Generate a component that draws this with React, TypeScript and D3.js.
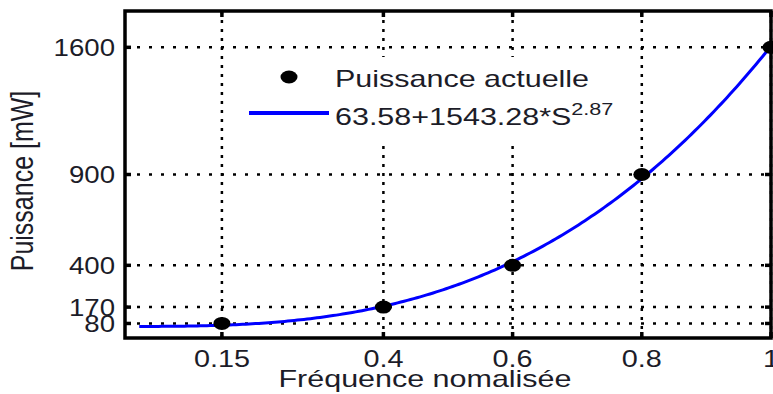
import React from "react";
import * as d3 from "d3";

const freqs = [0.15, 0.4, 0.6, 0.8, 1];
const powers = [80, 170, 400, 900, 1600];
const xTicks = [0.15, 0.4, 0.6, 0.8, 1];
const xTickLabels = ["0.15", "0.4", "0.6", "0.8", "1"];
const yTicks = [80, 170, 400, 900, 1600];
const yTickLabels = ["80", "170", "400", "900", "1600"];
const fitA = 63.58;
const fitB = 1543.28;
const fitP = 2.87;
const fitStart = 0.022;

const W = 773;
const H = 394;
const left = 125, right = 771, top = 11, bottom = 338;
const FONT = "'Liberation Sans', Arial, sans-serif";
const TXT = "#1c1c28";

function T({ x, y, sx = 1.2, anchor = "start", size = 24, children }: any) {
  return (
    <text
      transform={`translate(${x},${y}) scale(${sx},1)`}
      textAnchor={anchor}
      fontFamily={FONT}
      fontSize={size}
      fill={TXT}
    >
      {children}
    </text>
  );
}

export default function App() {
  const x = d3.scaleLinear().domain([0, 1]).range([left, right]);
  const y = d3.scaleLinear().domain([0, 1800]).range([bottom, top]);

  const fitXs = d3.range(fitStart, 1.0001, 0.005).concat([1]);
  const fitLine = d3
    .line<number>()
    .x((s) => x(s))
    .y((s) => y(fitA + fitB * Math.pow(s, fitP)))
    .curve(d3.curveLinear);

  return (
    <svg
      width={W}
      height={H}
      style={{ position: "absolute", left: 0, top: 0, background: "#fff" }}
    >
      <rect x={0} y={0} width={W} height={H} fill="#fff" />
      {/* grid */}
      {yTicks.map((v) => (
        <line
          key={"gy" + v}
          x1={left}
          x2={right}
          y1={y(v)}
          y2={y(v)}
          stroke="#000"
          strokeWidth={2.5}
          strokeDasharray="3 9"
        />
      ))}
      {xTicks.map((v) => (
        <line
          key={"gx" + v}
          x1={x(v)}
          x2={x(v)}
          y1={top}
          y2={bottom}
          stroke="#000"
          strokeWidth={2.5}
          strokeDasharray="3 6"
        />
      ))}
      {/* legend background */}
      <rect x={243} y={57} width={385} height={83} fill="#fff" />
      {/* fit curve */}
      <path d={fitLine(fitXs) || ""} fill="none" stroke="#0000ff" strokeWidth={3} />
      {/* points */}
      {freqs.map((f, i) => (
        <ellipse key={"p" + i} cx={x(f)} cy={y(powers[i])} rx={8.5} ry={6.5} fill="#000" />
      ))}
      {/* axes box */}
      <rect x={left} y={top} width={right - left} height={bottom - top} fill="none" stroke="#000" strokeWidth={3.5} />
      {/* ticks */}
      {yTicks.map((v) => (
        <g key={"ty" + v}>
          <line x1={left} x2={left + 6} y1={y(v)} y2={y(v)} stroke="#000" strokeWidth={3.5} />
          <line x1={right} x2={right - 6} y1={y(v)} y2={y(v)} stroke="#000" strokeWidth={3.5} />
        </g>
      ))}
      {xTicks.map((v) => (
        <g key={"tx" + v}>
          <line x1={x(v)} x2={x(v)} y1={top} y2={top + 6} stroke="#000" strokeWidth={3.5} />
          <line x1={x(v)} x2={x(v)} y1={bottom} y2={bottom - 6} stroke="#000" strokeWidth={3.5} />
        </g>
      ))}
      {/* tick labels */}
      {yTicks.map((v, i) => (
        <T key={"ly" + v} x={115} y={y(v) + 8.5} anchor="end" sx={1.15}>
          {yTickLabels[i]}
        </T>
      ))}
      {xTicks.map((v, i) => (
        <T key={"lx" + v} x={x(v)} y={367} anchor="middle" sx={1.2}>
          {xTickLabels[i]}
        </T>
      ))}
      {/* axis titles */}
      <T x={425} y={387} anchor="middle" sx={1.27}>
        Fréquence nomalisée
      </T>
      <text
        transform={`translate(33,181) rotate(-90) scale(1,1.25)`}
        textAnchor="middle"
        fontFamily={FONT}
        fontSize={25}
        fill={TXT}
      >
        Puissance [mW]
      </text>
      {/* legend */}
      <ellipse cx={289} cy={77} rx={8.5} ry={6.5} fill="#000" />
      <line x1={249} x2={329} y1={113} y2={113} stroke="#0000ff" strokeWidth={4} />
      <T x={335} y={87} sx={1.27}>
        Puissance actuelle
      </T>
      <T x={335} y={125} sx={1.27}>
        {`${fitA}+${fitB}*S`}
        <tspan dy={-10} fontSize={17}>{`${fitP}`}</tspan>
      </T>
    </svg>
  );
}
